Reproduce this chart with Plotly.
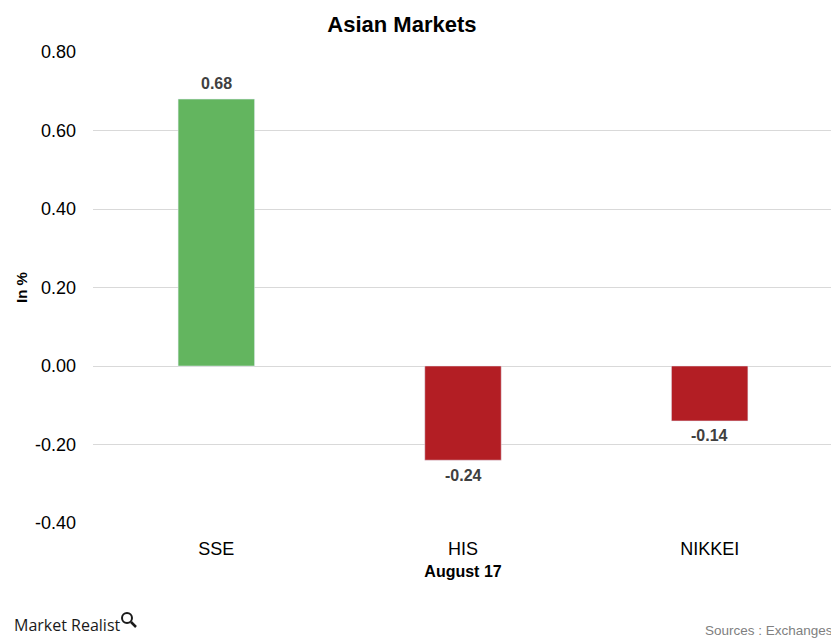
import plotly.graph_objects as go

categories = ["SSE", "HIS", "NIKKEI"]
values = [0.68, -0.24, -0.14]
labels = ["0.68", "-0.24", "-0.14"]
colors = ["#63B55F" if v >= 0 else "#B31E24" for v in values]
tick_vals = [-0.4, -0.2, 0.0, 0.2, 0.4, 0.6, 0.8]
tick_text = ["-0.40", "-0.20", "0.00", "0.20", "0.40", "0.60", "0.80"]

FONT = "Liberation Sans, Arial"

fig = go.Figure()
fig.add_trace(go.Bar(
    x=categories, y=values, marker_color=colors, width=0.31,
    hoverinfo="x+y",
))

# value labels on the bars
for cat, val, lab in zip(categories, values, labels):
    fig.add_annotation(x=cat, y=val, text=f"<b>{lab}</b>", showarrow=False,
                       xanchor="center", yanchor="middle",
                       yshift=16 if val >= 0 else -15,
                       font=dict(family=FONT, size=16, color="#404040"))

fig.update_layout(
    width=831, height=633,
    margin=dict(l=85, r=6, t=44, b=118),
    paper_bgcolor="white", plot_bgcolor="white",
    font=dict(family=FONT, color="#000000"),
    title=dict(text="<b>Asian Markets</b>", x=0.474, xanchor="center", y=0.975, yanchor="middle",
               font=dict(size=22, color="#000000")),
    showlegend=False,
    xaxis=dict(showgrid=False, showline=False, zeroline=False,
               tickfont=dict(size=18, color="#000000"), ticklabelstandoff=13,
               title=dict(text="<b>August 17</b>", font=dict(size=16), standoff=7)),
    yaxis=dict(range=[-0.4, 0.8], tickvals=tick_vals, ticktext=tick_text,
               showgrid=True, gridcolor="#D9D9D9", gridwidth=1,
               zeroline=False, showline=False,
               tickfont=dict(size=18, color="#000000"), ticklabelstandoff=16,
               title=dict(text="<b>In %</b>", font=dict(size=15), standoff=3)),
)

fig.add_annotation(text="Market Realist", xref="paper", yref="paper", x=-0.109, y=-0.2166,
                   xanchor="left", yanchor="middle", showarrow=False,
                   font=dict(family="Open Sans, Noto Sans", size=16, color="#1a1a1a"))
# magnifier icon of the logo
fig.add_shape(type="circle", xref="paper", yref="paper", x0=0.0392, x1=0.0527, y0=-0.2123, y1=-0.1911,
              line=dict(color="#1a1a1a", width=2))
fig.add_shape(type="line", xref="paper", yref="paper", x0=0.0514, x1=0.0581, y0=-0.2102, y1=-0.2208,
              line=dict(color="#1a1a1a", width=2.5))
fig.add_annotation(text="Sources : Exchanges", xref="paper", yref="paper", x=1.0027, y=-0.229,
                   xanchor="right", yanchor="middle", showarrow=False,
                   font=dict(family=FONT, size=13.5, color="#808080"))

fig.write_html("out.html")
